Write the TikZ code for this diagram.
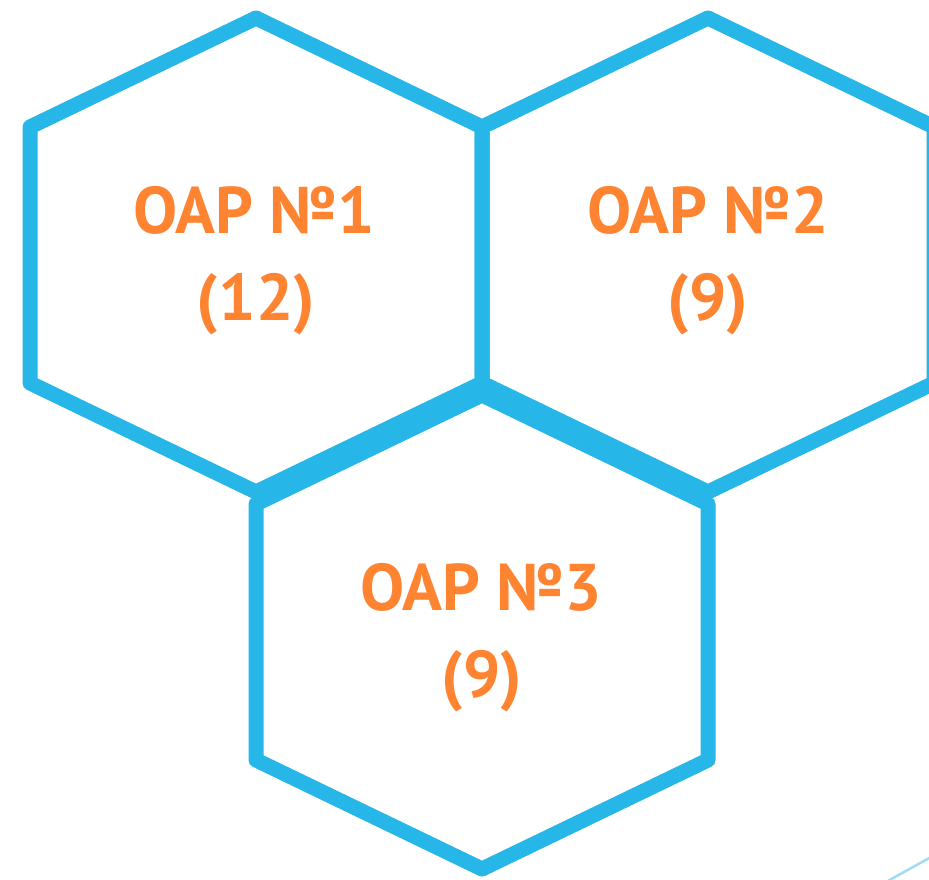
\documentclass[tikz,border=0pt]{standalone}
\usepackage{fontspec}
\newfontfamily\labelfont{PT Sans}
\definecolor{hexblue}{RGB}{39,182,232}
\definecolor{lblorange}{RGB}{254,132,50}
\definecolor{faintblue}{RGB}{160,220,242}
\tikzset{
  hexline/.style={draw=hexblue, line width=15pt, line join=round},
  lbl/.style={text=lblorange, font=\labelfont\bfseries\fontsize{66}{66}\selectfont, inner sep=0pt, anchor=base}
}
\begin{document}
\begin{tikzpicture}[x=1pt,y=-1pt]
\useasboundingbox (0,0) rectangle (929,880);
\clip (0,0) rectangle (929,880);
\fill[white] (0,0) rectangle (929,880);
% hexagon 1
\draw[hexline] (256,18) -- (482,127) -- (482,383) -- (256,492) -- (30,383) -- (30,127) -- cycle;
% hexagon 2
\draw[hexline] (708,18) -- (934,127) -- (934,383) -- (708,492) -- (482,383) -- (482,127) -- cycle;
% hexagon 3
\draw[hexline] (482,395) -- (708,504) -- (708,760) -- (482,869) -- (256,760) -- (256,504) -- cycle;
% faint line
\coordinate (fa) at (886,882);
\coordinate (fb) at (931,857);
\draw[faintblue, line width=2.5pt] (fa) -- (fb);
% labels
\node[lbl] (t1a) at (254,233) {ОАР №1};
\node[lbl] (t1b) at (256,320) {(12)};
\node[lbl] (t2a) at (708,233) {ОАР №2};
\node[lbl] (t2b) at (708,320) {(9)};
\node[lbl] (t3a) at (481,610) {ОАР №3};
\node[lbl] (t3b) at (482,697) {(9)};
\end{tikzpicture}
\end{document}
